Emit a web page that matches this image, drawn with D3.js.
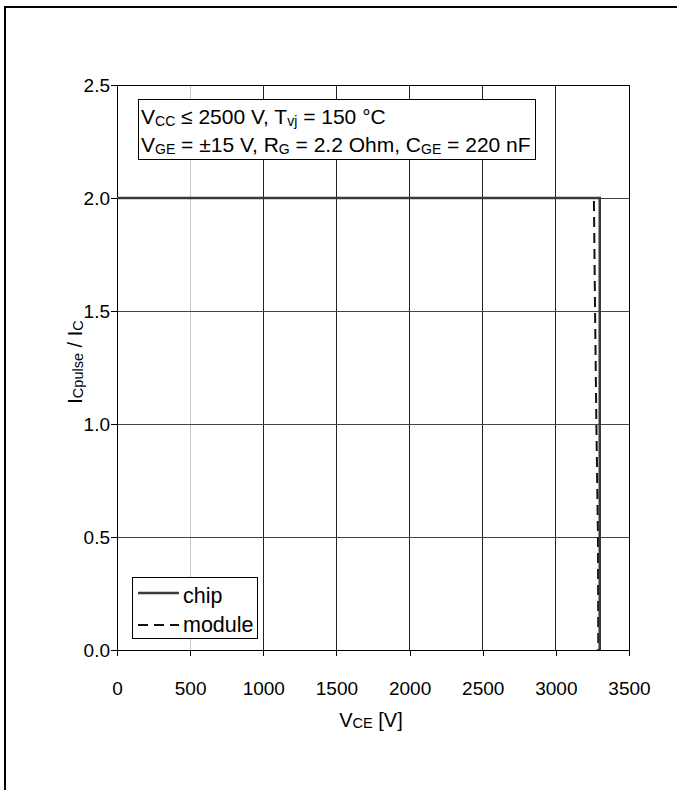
<!DOCTYPE html>
<html>
<head>
<meta charset="utf-8">
<script src="https://cdn.jsdelivr.net/npm/d3@7"></script>
<style>
  html, body { margin: 0; padding: 0; background: #fff; overflow: hidden; width: 677px; height: 790px; }
  ::-webkit-scrollbar { display: none; width: 0; }
  svg { display: block; font-family: Arial, "Liberation Sans", sans-serif; }
</style>
</head>
<body>
<svg id="canvas" width="677" height="790"></svg>
<script>
// tick values
let xTicks = [0, 500, 1000, 1500, 2000, 2500, 3000, 3500]
let yTicks = [0.0, 0.5, 1.0, 1.5, 2.0, 2.5]

// chip curve (VCE [V], Icpulse/Ic)
let chipV = [0, 3300, 3300]
let chipI = [2.0, 2.0, 0.0]

// module curve
let moduleV = [0, 3260, 3268, 3277, 3288, 3290]
let moduleI = [2.0, 2.0, 1.5, 1.0, 0.5, 0.0]

let canvas = d3.select('#canvas')

let plotLeft = 117, plotRight = 629, plotTop = 85, plotBottom = 650

let x = d3.scaleLinear().domain([0, 3500]).range([plotLeft, plotRight])
let y = d3.scaleLinear().domain([0, 2.5]).range([plotBottom, plotTop])

// outer frame: only the top and left edges show
canvas.append('line')
    .attr('x1', 5).attr('x2', 5).attr('y1', 6).attr('y2', 790)
    .attr('stroke', '#000').attr('stroke-width', 2)
canvas.append('line')
    .attr('x1', 4).attr('x2', 677).attr('y1', 7).attr('y2', 7)
    .attr('stroke', '#000').attr('stroke-width', 2)

// grid
canvas.selectAll('.vgrid')
    .data(xTicks.slice(1, -1))
    .enter()
    .append('line')
    .attr('x1', d => x(d)).attr('x2', d => x(d))
    .attr('y1', plotTop).attr('y2', plotBottom)
    .attr('stroke', d => d === 500 ? '#c8c8c8' : '#222')
    .attr('stroke-width', 1)
    .attr('shape-rendering', 'crispEdges')

canvas.selectAll('.hgrid')
    .data(yTicks.slice(1, -1))
    .enter()
    .append('line')
    .attr('x1', plotLeft).attr('x2', plotRight)
    .attr('y1', d => y(d)).attr('y2', d => y(d))
    .attr('stroke', '#444')
    .attr('stroke-width', 1)
    .attr('shape-rendering', 'crispEdges')

// axes
let xAxis = d3.axisBottom(x).tickValues(xTicks).tickSize(6).tickPadding(26).tickFormat(d3.format('d'))
let yAxis = d3.axisLeft(y).tickValues(yTicks).tickSize(6).tickPadding(1).tickFormat(d3.format('.1f'))

let gx = canvas.append('g').attr('transform', `translate(0,${plotBottom})`).call(xAxis)
let gy = canvas.append('g').attr('transform', `translate(${plotLeft},0)`).call(yAxis)

for (let g of [gx, gy]) {
    g.select('.domain').remove()
    g.selectAll('line').attr('stroke', '#000').attr('shape-rendering', 'crispEdges')
    g.selectAll('text').attr('font-size', 19).attr('fill', '#000')
        .attr('font-family', 'Arial, "Liberation Sans", sans-serif')
}

// plot border
canvas.append('rect')
    .attr('x', plotLeft).attr('y', plotTop)
    .attr('width', plotRight - plotLeft).attr('height', plotBottom - plotTop)
    .attr('fill', 'none')
    .attr('stroke', '#000')
    .attr('stroke-width', 1)
    .attr('shape-rendering', 'crispEdges')

// curves
let line = d3.line().x(d => x(d[0])).y(d => y(d[1]))

canvas.append('path')
    .datum(moduleV.map((v, i) => [v, moduleI[i]]))
    .attr('d', line)
    .attr('fill', 'none')
    .attr('stroke', '#111')
    .attr('stroke-width', 2)
    .attr('stroke-dasharray', '10,6')

canvas.append('path')
    .datum(chipV.map((v, i) => [v, chipI[i]]))
    .attr('d', line)
    .attr('fill', 'none')
    .attr('stroke', '#3a3a3a')
    .attr('stroke-width', 2.5)

// annotation box
canvas.append('rect')
    .attr('x', 138.5).attr('y', 99.5)
    .attr('width', 397).attr('height', 60)
    .attr('fill', '#fff')
    .attr('stroke', '#000')
    .attr('stroke-width', 1)

let sub = (t, parts) => {
    parts.forEach(p => {
        let s = t.append('tspan').text(p.t)
        if (p.sub) s.attr('font-size', 14).attr('dy', 2)
        else if (p.back) s.attr('dy', -2)
    })
}

let t1 = canvas.append('text').attr('x', 141).attr('y', 124).attr('font-size', 21)
sub(t1, [{t: 'V'}, {t: 'CC', sub: true}, {t: ' ≤ 2500 V, T', back: true}, {t: 'vj', sub: true}, {t: ' = 150 °C', back: true}])

let t2 = canvas.append('text').attr('x', 141).attr('y', 152).attr('font-size', 21)
sub(t2, [{t: 'V'}, {t: 'GE', sub: true}, {t: ' = ±15 V, R', back: true}, {t: 'G', sub: true},
    {t: ' = 2.2 Ohm, C', back: true}, {t: 'GE', sub: true}, {t: ' = 220 nF', back: true}])

// legend
canvas.append('rect')
    .attr('x', 132.5).attr('y', 577.5)
    .attr('width', 125).attr('height', 61)
    .attr('fill', '#fff')
    .attr('stroke', '#000')
    .attr('stroke-width', 1)

canvas.append('line')
    .attr('x1', 138).attr('x2', 179).attr('y1', 593).attr('y2', 593)
    .attr('stroke', '#3a3a3a').attr('stroke-width', 2.5)
canvas.append('line')
    .attr('x1', 138).attr('x2', 179).attr('y1', 625).attr('y2', 625)
    .attr('stroke', '#111').attr('stroke-width', 2).attr('stroke-dasharray', '10,6')

canvas.append('text').attr('x', 183).attr('y', 603).attr('font-size', 21.5).text('chip')
canvas.append('text').attr('x', 183).attr('y', 632).attr('font-size', 21.5).text('module')

// axis labels
let xl = canvas.append('text').attr('x', 371).attr('y', 727)
    .attr('text-anchor', 'middle').attr('font-size', 20)
xl.append('tspan').text('V')
xl.append('tspan').text('CE').attr('font-size', 14.5).attr('dy', 1)
xl.append('tspan').text(' [V]').attr('dy', -1)

let yl = canvas.append('text')
    .attr('transform', 'translate(82,362) rotate(-90)')
    .attr('text-anchor', 'middle').attr('font-size', 20)
yl.append('tspan').text('I')
yl.append('tspan').text('Cpulse').attr('font-size', 14.5).attr('dy', 1)
yl.append('tspan').text(' / I').attr('dy', -1)
yl.append('tspan').text('C').attr('font-size', 14.5).attr('dy', 1)
</script>
</body>
</html>
